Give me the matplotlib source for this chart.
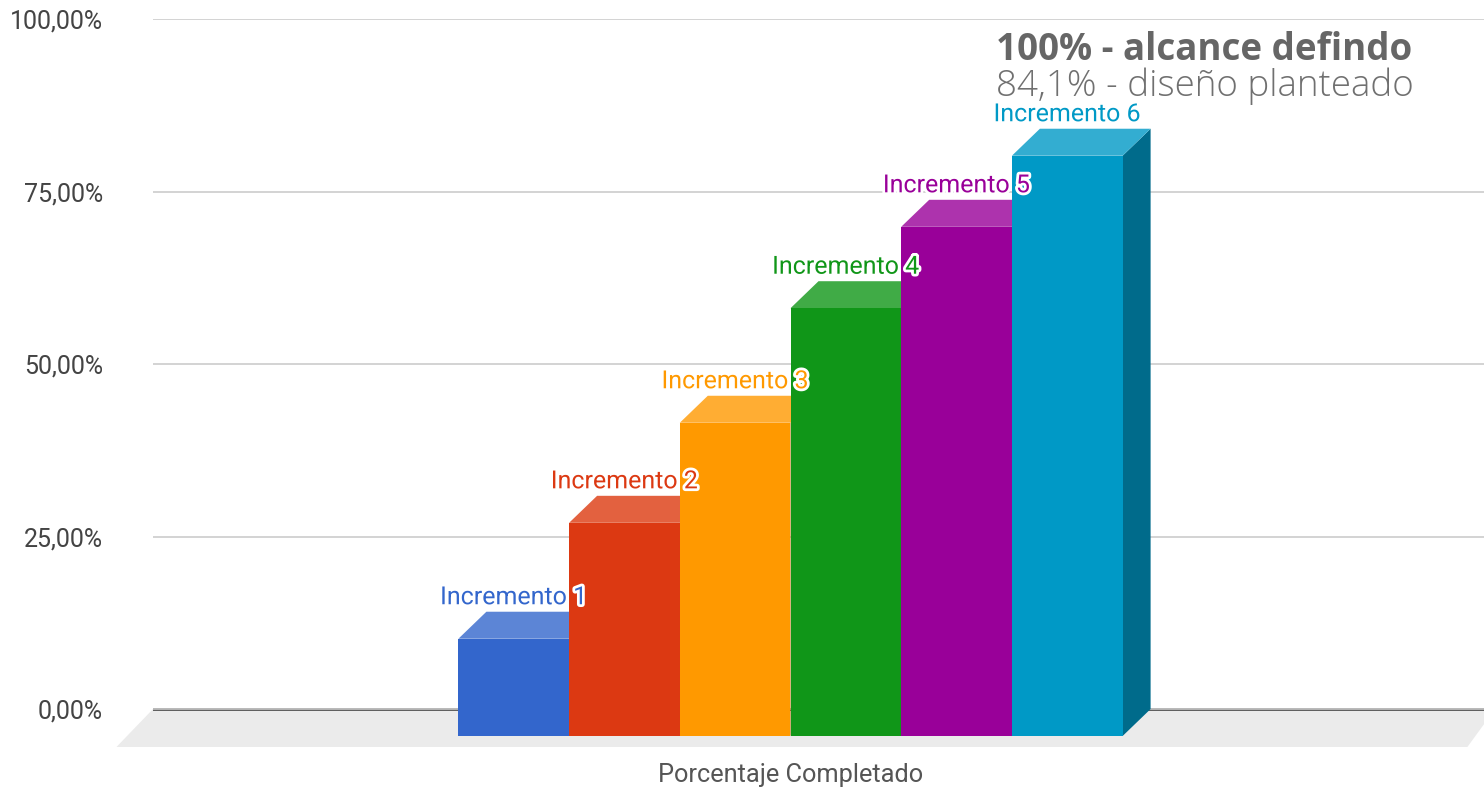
import matplotlib
matplotlib.use("Agg")
import matplotlib.pyplot as plt
from matplotlib.patches import Polygon
import matplotlib.patheffects as pe

# data
labels = ["Incremento 1", "Incremento 2", "Incremento 3",
          "Incremento 4", "Incremento 5", "Incremento 6"]
values = [0.141, 0.309, 0.454, 0.620, 0.738, 0.841]
front_colors = ["#3366cc", "#dc3912", "#ff9900", "#109618", "#990099", "#0099c6"]
top_colors = ["#5c85d6", "#e3613f", "#ffad33", "#40ab46", "#ad33ad", "#33add1"]
side_colors = ["#24478f", "#9a280d", "#b36b00", "#0b6911", "#6b006b", "#006b8b"]
yticks = [0, 0.25, 0.5, 0.75, 1.0]
ytick_labels = ["0,00%", "25,00%", "50,00%", "75,00%", "100,00%"]
xlabel = "Porcentaje Completado"
note_bold = "100% - alcance defindo"
note_light = "84,1% - diseño planteado"

plt.rcParams["font.family"] = ["Roboto", "DejaVu Sans"]

fig = plt.figure(figsize=(14.84, 7.89), dpi=100)
ax = fig.add_axes([153 / 1484, 0.0489, 1331 / 1484, 0.927])

n = len(values)
half = 1331 / 110.7 / 2
ax.set_xlim((n - 1) / 2 - half, (n - 1) / 2 + half)
ax.set_ylim(-0.06, 1.0)

# depth offset of the 3d effect, in data units
dx = 28 / 110.7
dy = 27 / 690

# floor
x0, x1 = ax.get_xlim()
floor = Polygon([(x0, 0), (x1 + 0.1, 0), (x1 - 0.15, -0.055), (x0 - 0.33, -0.055)],
                closed=True, facecolor="#ebebeb", edgecolor="none", zorder=1, clip_on=False)
ax.add_patch(floor)

ax.set_yticks(yticks)
ax.set_yticklabels(ytick_labels, fontsize=18, color="#444444")
ax.tick_params(axis="y", length=0, pad=36)
ax.set_xticks([])
ax.grid(axis="y", color="#cccccc", linewidth=1.2, zorder=0)
ax.axhline(0, color="#333333", linewidth=1.8, zorder=1.5)
for s in ax.spines.values():
    s.set_visible(False)

for i, (v, fc, tc, sc) in enumerate(zip(values, front_colors, top_colors, side_colors)):
    z = 2 + i
    side = Polygon([(i - dx + 0.5, -dy), (i + 0.5, 0), (i + 0.5, v), (i - dx + 0.5, v - dy)],
                   closed=True, facecolor=sc, edgecolor="none", zorder=z)
    top = Polygon([(i - dx - 0.5, v - dy), (i - dx + 0.5, v - dy), (i + 0.5, v), (i - 0.5, v)],
                  closed=True, facecolor=tc, edgecolor="none", zorder=z)
    ax.add_patch(side)
    ax.add_patch(top)
    ax.bar(i - dx, v, bottom=-dy, width=1.0, color=fc, edgecolor="none", zorder=z + 0.5)

for i, (v, lab, fc) in enumerate(zip(values, labels, front_colors)):
    ax.text(i - dx, v + 0.021, lab, ha="center", va="center", fontsize=18, color=fc,
            zorder=20, path_effects=[pe.withStroke(linewidth=4, foreground="white")])

fig.text(791 / 1484, 1 - 775 / 789, xlabel, ha="center", va="center",
         fontsize=18.3, color="#555555")

fig.text(996 / 1484, 1 - 60 / 789, note_bold, ha="left", va="baseline", fontsize=26.5,
         fontweight="bold", color="#666666", family=["Open Sans", "DejaVu Sans"])
fig.text(996 / 1484, 1 - 96 / 789, note_light, ha="left", va="baseline", fontsize=26.5,
         fontweight="light", color="#707070", family=["Open Sans", "DejaVu Sans"])

fig.savefig("out.png", dpi=100)
